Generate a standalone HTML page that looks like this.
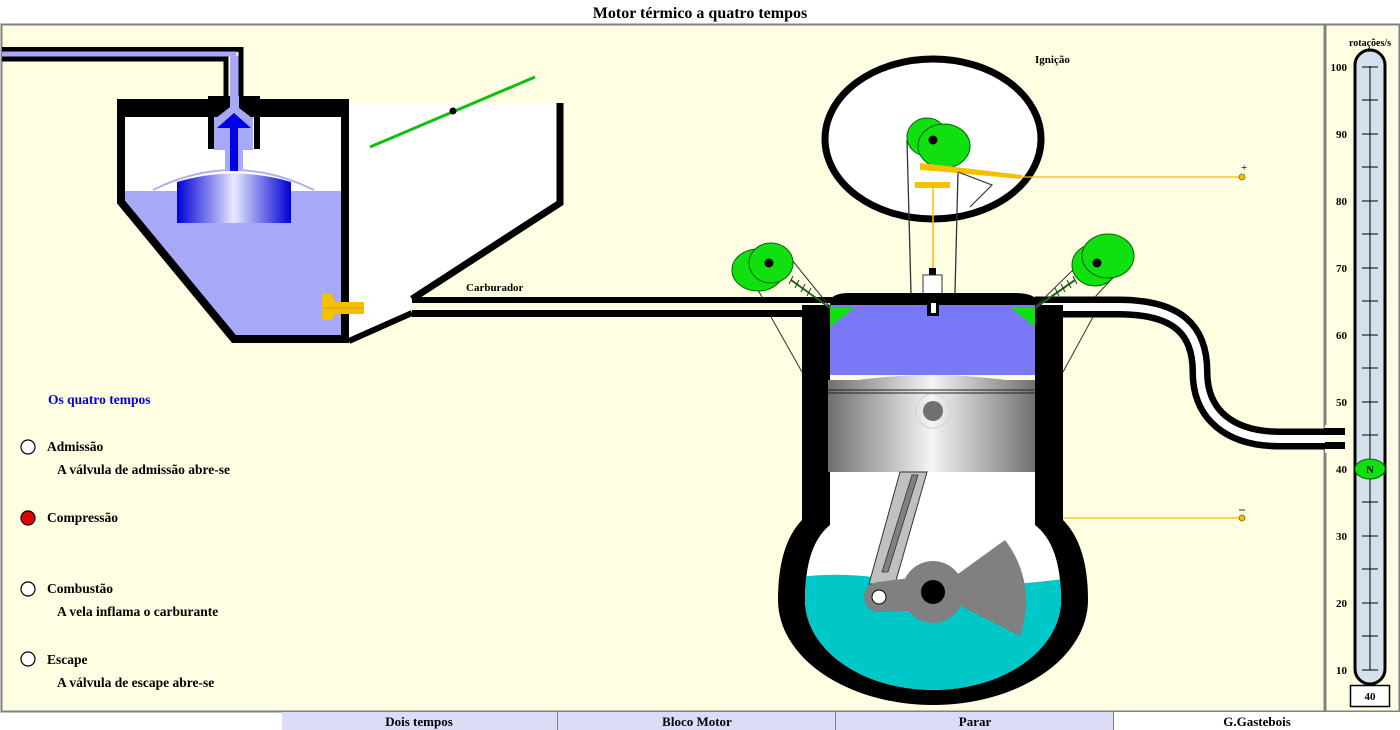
<!DOCTYPE html>
<html><head><meta charset="utf-8"><style>
html,body{margin:0;padding:0;background:#fff;}
svg{display:block;font-family:"Liberation Serif",serif;font-weight:bold;}
</style></head><body>
<svg width="1400" height="730" viewBox="0 0 1400 730" xmlns="http://www.w3.org/2000/svg">
<defs>
<linearGradient id="cyl" x1="0" x2="1" y1="0" y2="0">
<stop offset="0" stop-color="#0000d8"/><stop offset="0.5" stop-color="#e8e8ff"/><stop offset="1" stop-color="#0000d8"/></linearGradient>
<linearGradient id="pis" x1="0" x2="1" y1="0" y2="0">
<stop offset="0" stop-color="#707070"/><stop offset="0.5" stop-color="#f4f4f4"/><stop offset="1" stop-color="#707070"/></linearGradient>
<clipPath id="bowl"><path d="M830,470 L830,525 Q805,545 805,600 A128,90 0 0 0 1061,600 Q1061,545 1035,525 L1035,470 Z"/></clipPath>
</defs>
<rect width="1400" height="730" fill="#fff"/>
<text x="700" y="18" text-anchor="middle" font-size="16">Motor térmico a quatro tempos</text>
<rect x="1.5" y="24.5" width="1323" height="687" fill="#fffee2" stroke="#808080" stroke-width="2"/>
<rect x="1325.5" y="24.5" width="74" height="687" fill="#fffee2" stroke="#808080" stroke-width="2"/>

<!-- Carburetor -->
<path d="M349,103 L563,103 L563,203 L412,297 L412,316 L349,343 Z" fill="#fff"/>
<path d="M121,112 L345,112 L345,339 L234,339 L121,200 Z" fill="#fff"/>
<path d="M121,191 L345,191 L345,339 L234,339 L121,203 Z" fill="#a8a8f8"/>
<path d="M153,190 Q233,150 314,190" fill="none" stroke="#b0b0f0" stroke-width="2"/>
<path d="M177,182 Q234,165 291,182 L291,223 L177,223 Z" fill="url(#cyl)"/>
<path d="M214,117 L214,150 L225,150 L225,170 L243,170 L243,150 L253,150 L253,117 L239,105 L239,56 L230,56 L230,105 Z" fill="#a8a8f8"/>
<rect x="230" y="127" width="8" height="44" fill="#0000e8"/>
<path d="M2,49.5 L241,49.5 L241,110" fill="none" stroke="#000" stroke-width="5"/>
<path d="M2,59 L226,59 L226,110" fill="none" stroke="#000" stroke-width="5"/>
<path d="M2,54 L234,54 L234,110" fill="none" stroke="#a8a8f8" stroke-width="5"/>
<path d="M121,103 L121,202 L234,339 L345,339 L345,103 Z" fill="none" stroke="#000" stroke-width="8"/>
<rect x="117" y="103" width="232" height="14" fill="#000"/>
<rect x="208" y="96" width="52" height="14" fill="#000"/>
<rect x="208" y="103" width="6" height="46" fill="#000"/>
<rect x="254" y="103" width="6" height="46" fill="#000"/>
<path d="M214,117 L229,117 L229,105 Z M239,105 L239,117 L253,117 Z" fill="#000"/>
<rect x="230" y="96" width="9" height="22" fill="#a8a8f8"/>
<path d="M216,118 L234,104 L252,118 Z" fill="#a8a8f8"/>
<path d="M217,128 L234,113 L251,128 Z" fill="#0000e8"/>
<path d="M560,103 L560,203 L412,299" fill="none" stroke="#000" stroke-width="7"/>
<path d="M349,341 L412,313" fill="none" stroke="#000" stroke-width="6"/>
<rect x="412" y="297" width="420" height="6" fill="#000"/>
<rect x="412" y="310" width="420" height="7" fill="#000"/>
<line x1="370" y1="147" x2="535" y2="77" stroke="#10c010" stroke-width="3"/>
<circle cx="453" cy="111" r="3.5" fill="#000"/>
<path d="M322,294 L332,294 L335,302 L364,302 L364,314 L335,314 L332,320 L322,320 Z" fill="#f4c000"/>
<line x1="323" y1="308" x2="364" y2="308" stroke="#d0a040" stroke-width="1"/>
<text x="466" y="291" font-size="11">Carburador</text>

<!-- Ignition -->
<ellipse cx="933" cy="139" rx="108" ry="80" fill="#fff" stroke="#000" stroke-width="7"/>
<text x="1035" y="63" font-size="11">Ignição</text>
<path d="M907,140 L911,293 M958,172 L955,293" stroke="#333" stroke-width="1.3" fill="none"/>
<ellipse cx="927" cy="137" rx="20" ry="19" fill="#10e010" stroke="#060" stroke-width="1"/>
<ellipse cx="944" cy="146" rx="26" ry="22" fill="#10e010" stroke="#060" stroke-width="1"/>
<circle cx="933" cy="140" r="4.5" fill="#000"/>
<path d="M920,163 L947,166 L1022,175 L1021,179 L945,172 L920,170 Z" fill="#f4c000"/>
<line x1="1022" y1="177" x2="1242" y2="177" stroke="#f4c000" stroke-width="1.3"/>
<circle cx="1242" cy="177" r="3" fill="#f4c000" stroke="#806000" stroke-width="0.8"/>
<text x="1241" y="171" font-size="11" font-weight="normal">+</text>
<path d="M958,172 L992,185 L970,207" stroke="#333" stroke-width="1.2" fill="none"/>
<rect x="915" y="182" width="35" height="6" fill="#f4c000"/>
<line x1="933" y1="188" x2="933" y2="268" stroke="#f4c000" stroke-width="1.5"/>
<rect x="929" y="268" width="7" height="8" fill="#000"/>
<rect x="923" y="275" width="19" height="19" fill="#fff" stroke="#333" stroke-width="1"/>

<!-- exhaust pipe -->
<path d="M1035,307 L1118,307 C1178,307 1200,330 1200,372 C1200,415 1230,439 1280,439 L1345,439" fill="none" stroke="#000" stroke-width="21"/>
<path d="M1035,307 L1118,307 C1178,307 1200,330 1200,372 C1200,415 1230,439 1280,439 L1345,439" fill="none" stroke="#fff" stroke-width="8"/>
<rect x="1325" y="425" width="22" height="28" fill="#fffee2"/>
<rect x="1325" y="428" width="20" height="7" fill="#000"/>
<rect x="1325" y="442" width="20" height="7" fill="#000"/>

<!-- cylinder head -->
<path d="M830,303 Q830,293 850,293 L1015,293 Q1035,293 1040,303 Z" fill="#000"/>
<rect x="830" y="297" width="212" height="10" fill="#000"/>
<rect x="830" y="305" width="205" height="70" fill="#7878f8"/>
<rect x="927" y="300" width="12" height="16" fill="#000"/>
<rect x="931" y="303" width="5" height="10" fill="#fff"/>
<rect x="802" y="305" width="28" height="225" fill="#000"/>
<rect x="1035" y="305" width="28" height="225" fill="#000"/>
<rect x="830" y="470" width="205" height="60" fill="#fff"/>
<path d="M802,520 Q778,545 778,600 A155,105 0 0 0 1088,600 Q1088,545 1063,520 Z" fill="#000"/>
<path d="M830,520 L830,525 Q805,545 805,600 A128,90 0 0 0 1061,600 Q1061,545 1035,525 L1035,520 Z" fill="#fff"/>
<path clip-path="url(#bowl)" d="M790,578 Q850,570 900,582 Q990,590 1070,578 L1070,700 L790,700 Z" fill="#00c8c8"/>
<path d="M828,385 Q933,365 1035,385 L1035,472 L828,472 Z" fill="url(#pis)"/>
<rect x="828" y="380" width="207" height="10" fill="url(#pis)"/>
<line x1="828" y1="390" x2="1035" y2="390" stroke="#222" stroke-width="1"/>
<line x1="828" y1="393" x2="1035" y2="393" stroke="#222" stroke-width="1"/>
<circle cx="933" cy="411" r="17" fill="none" stroke="#d8d8d8" stroke-width="1.5"/>
<circle cx="933" cy="411" r="10" fill="#707070"/>
<path d="M900,472 L927,472 L895,584 L869,584 Z" fill="#c0c0c0" stroke="#333" stroke-width="1"/>
<path d="M912,475 L918,475 L888,572 L882,572 Z" fill="#808080" stroke="#333" stroke-width="0.8"/>
<path d="M933,592 L1005,540 A100,100 0 0 1 1020,636 Z" fill="#808080"/>
<circle cx="933" cy="592" r="31" fill="#808080"/>
<path d="M878,582 L933,575 L933,610 L878,612 Z" fill="#808080"/>
<circle cx="879" cy="597" r="15" fill="#808080"/>
<circle cx="879" cy="597" r="7" fill="#fff" stroke="#000" stroke-width="1"/>
<circle cx="933" cy="592" r="12" fill="#000"/>
<!-- valves -->
<path d="M830,307 L855,307 L830,327 Z" fill="#10e010"/>
<path d="M1035,307 L1010,307 L1035,327 Z" fill="#10e010"/>
<line x1="791" y1="280" x2="830" y2="308" stroke="#1a6a1a" stroke-width="2"/>
<line x1="1075" y1="280" x2="1035" y2="308" stroke="#1a6a1a" stroke-width="2"/>
<g stroke="#333" stroke-width="1">
<line x1="793" y1="276" x2="789" y2="284"/><line x1="799" y1="280" x2="795" y2="288"/><line x1="805" y1="284" x2="801" y2="292"/><line x1="811" y1="288" x2="807" y2="296"/>
<line x1="1073" y1="276" x2="1077" y2="284"/><line x1="1067" y1="280" x2="1071" y2="288"/><line x1="1061" y1="284" x2="1065" y2="292"/><line x1="1055" y1="288" x2="1059" y2="296"/>
<line x1="792" y1="260" x2="830" y2="307"/><line x1="758" y1="290" x2="762" y2="297"/><line x1="771" y1="317" x2="802" y2="372"/>
<line x1="1120" y1="270" x2="1095" y2="297"/><line x1="1093" y1="317" x2="1063" y2="372"/><line x1="1075" y1="268" x2="1035" y2="307"/>
</g>
<ellipse cx="758" cy="270" rx="26" ry="21" fill="#10e010" stroke="#060" stroke-width="1"/>
<ellipse cx="771" cy="263" rx="22" ry="20" fill="#10e010" stroke="#060" stroke-width="1"/>
<circle cx="769" cy="263" r="4.5" fill="#000"/>
<ellipse cx="1095" cy="265" rx="23" ry="21" fill="#10e010" stroke="#060" stroke-width="1"/>
<ellipse cx="1108" cy="256" rx="26" ry="22" fill="#10e010" stroke="#060" stroke-width="1"/>
<circle cx="1097" cy="263" r="4.5" fill="#000"/>
<line x1="1063" y1="518" x2="1242" y2="518" stroke="#f4c000" stroke-width="1.3"/>
<circle cx="1242" cy="518" r="3" fill="#f4c000" stroke="#806000" stroke-width="0.8"/>
<line x1="1239" y1="510" x2="1245" y2="510" stroke="#333" stroke-width="1"/>

<!-- Left text -->
<g font-size="13.5">
<text x="48" y="404" fill="#0000e0">Os quatro tempos</text>
<circle cx="28" cy="447" r="7" fill="#fff" stroke="#000" stroke-width="1.2"/>
<text x="47" y="451">Admissão</text>
<text x="57" y="474">A válvula de admissão abre-se</text>
<circle cx="28" cy="518" r="7" fill="#e00000" stroke="#000" stroke-width="1.2"/>
<text x="47" y="522">Compressão</text>
<circle cx="28" cy="589" r="7" fill="#fff" stroke="#000" stroke-width="1.2"/>
<text x="47" y="593">Combustão</text>
<text x="57" y="616">A vela inflama o carburante</text>
<circle cx="28" cy="659" r="7" fill="#fff" stroke="#000" stroke-width="1.2"/>
<text x="47" y="664">Escape</text>
<text x="57" y="687">A válvula de escape abre-se</text>
</g>

<!-- Gauge -->
<text x="1370" y="46" font-size="10" text-anchor="middle">rotações/s</text>
<rect x="1355" y="50" width="30" height="634" rx="15" fill="#d4e0ec" stroke="#000" stroke-width="3"/>
<line x1="1370" y1="66" x2="1370" y2="670" stroke="#000" stroke-width="1"/>
<g stroke="#000" stroke-width="1">
<line x1="1362" y1="67" x2="1378" y2="67"/><line x1="1362" y1="100" x2="1378" y2="100"/>
<line x1="1362" y1="134" x2="1378" y2="134"/><line x1="1362" y1="167" x2="1378" y2="167"/>
<line x1="1362" y1="201" x2="1378" y2="201"/><line x1="1362" y1="234" x2="1378" y2="234"/>
<line x1="1362" y1="268" x2="1378" y2="268"/><line x1="1362" y1="301" x2="1378" y2="301"/>
<line x1="1362" y1="335" x2="1378" y2="335"/><line x1="1362" y1="368" x2="1378" y2="368"/>
<line x1="1362" y1="402" x2="1378" y2="402"/><line x1="1362" y1="435" x2="1378" y2="435"/>
<line x1="1362" y1="469" x2="1378" y2="469"/><line x1="1362" y1="502" x2="1378" y2="502"/>
<line x1="1362" y1="536" x2="1378" y2="536"/><line x1="1362" y1="569" x2="1378" y2="569"/>
<line x1="1362" y1="603" x2="1378" y2="603"/><line x1="1362" y1="636" x2="1378" y2="636"/>
<line x1="1362" y1="670" x2="1378" y2="670"/>
</g>
<g font-size="11" text-anchor="end">
<text x="1347" y="71">100</text><text x="1347" y="138">90</text><text x="1347" y="205">80</text>
<text x="1347" y="272">70</text><text x="1347" y="339">60</text><text x="1347" y="406">50</text>
<text x="1347" y="473">40</text><text x="1347" y="540">30</text><text x="1347" y="607">20</text>
<text x="1347" y="674">10</text>
</g>
<ellipse cx="1370" cy="469" rx="15" ry="10" fill="#10e010" stroke="#060" stroke-width="1"/>
<text x="1370" y="473" font-size="10" text-anchor="middle">N</text>
<rect x="1350.5" y="685.5" width="39" height="21" fill="#fff" stroke="#000" stroke-width="1.5"/>
<text x="1370" y="700" font-size="11" text-anchor="middle">40</text>

<!-- Buttons -->
<g font-size="13" text-anchor="middle">
<rect x="282" y="712" width="275" height="18" fill="#dcdcf8"/>
<rect x="558" y="712" width="277" height="18" fill="#dcdcf8"/>
<rect x="836" y="712" width="277" height="18" fill="#dcdcf8"/>
<rect x="1114" y="712" width="286" height="18" fill="#fff"/>
<line x1="557.5" y1="712" x2="557.5" y2="730" stroke="#808080"/>
<line x1="835.5" y1="712" x2="835.5" y2="730" stroke="#808080"/>
<line x1="1113.5" y1="712" x2="1113.5" y2="730" stroke="#808080"/>
<text x="419" y="726">Dois tempos</text>
<text x="697" y="726">Bloco Motor</text>
<text x="975" y="726">Parar</text>
<text x="1257" y="726">G.Gastebois</text>
</g>
</svg>
</body></html>
